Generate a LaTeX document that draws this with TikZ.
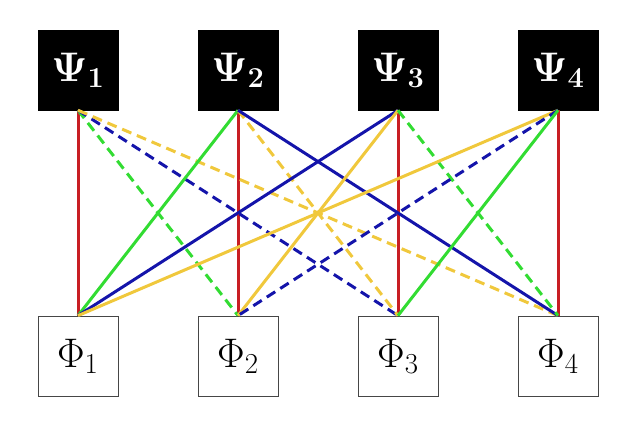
\RequirePackage{fix-cm}
\documentclass[tikz,border=0pt]{standalone}
\usepackage{bm}
\usepackage{graphicx}
\definecolor{cred}{RGB}{200,30,35}
\definecolor{cgreen}{RGB}{50,220,50}
\definecolor{cblue}{RGB}{20,20,170}
\definecolor{cyellow}{RGB}{240,200,60}
\definecolor{cgray}{RGB}{70,70,70}
\begin{document}
\begin{tikzpicture}[x=0.75pt,y=-0.75pt,
  psibox/.style={fill=black,draw=black,minimum size=60pt,inner sep=0pt,text=white,font=\fontsize{25}{30}\selectfont},
  phibox/.style={fill=white,draw=cgray,line width=0.6pt,minimum size=60pt,inner sep=0pt,font=\fontsize{25}{30}\selectfont},
  conn/.style={line width=2.25pt},
  dsh/.style={conn,dash pattern=on 7.5pt off 4.5pt}]
\useasboundingbox (0,0) rectangle (634,426);
\foreach \i/\x in {1/78,2/238,3/398,4/558}{
  \node[psibox] (P\i) at (\x,70) {\scalebox{1.24}{$\bm{\Psi_{\i}}$}};
  \node[phibox] (F\i) at (\x,356) {\scalebox{1.24}{$\Phi_{\i}$}};
}
% red verticals
\foreach \i in {1,2,3,4}{\draw[conn,cred] (P\i.south) -- (F\i.north);}
% from Psi1
\draw[dsh,cgreen] (P1.south) -- (F2.north);
\draw[dsh,cblue] (P1.south) -- (F3.north);
\draw[dsh,cyellow] (P1.south) -- (F4.north);
% from Psi2
\draw[conn,cgreen] (P2.south) -- (F1.north);
\draw[dsh,cyellow] (P2.south) -- (F3.north);
\draw[conn,cblue] (P2.south) -- (F4.north);
% from Psi3
\draw[conn,cblue] (P3.south) -- (F1.north);
\draw[conn,cyellow] (P3.south) -- (F2.north);
\draw[dsh,cgreen] (P3.south) -- (F4.north);
% from Psi4
\draw[conn,cyellow] (P4.south) -- (F1.north);
\draw[dsh,cblue] (P4.south) -- (F2.north);
\draw[conn,cgreen] (P4.south) -- (F3.north);
\end{tikzpicture}
\end{document}
